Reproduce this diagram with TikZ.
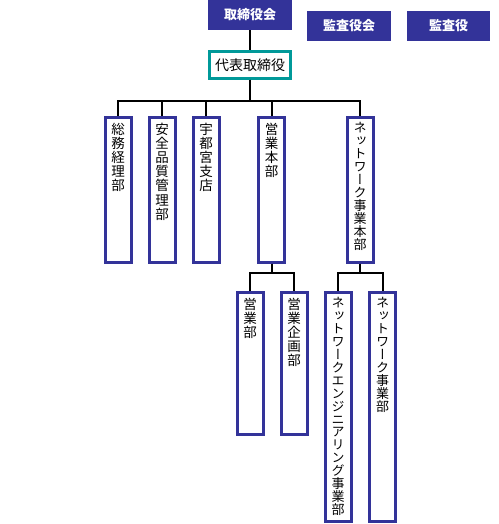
\documentclass[tikz,border=0pt]{standalone}
\usepackage{fontspec}
\usetikzlibrary{calc}
\newfontfamily\jp{Noto Sans CJK JP}
\newfontfamily\jpv[RawFeature=+vert]{Noto Sans CJK JP}
\definecolor{navy}{RGB}{51,51,153}
\definecolor{tealb}{RGB}{0,153,153}
\tikzset{
  topbox/.style={fill=navy, draw=none, text=white, font=\jp\bfseries\fontsize{13}{15}\selectfont, minimum width=84, minimum height=30, inner sep=0},
  repbox/.style={draw=tealb, line width=3, fill=white, font=\jp\fontsize{14}{16}\selectfont, minimum width=81, minimum height=27, inner sep=0},
  unit/.style={draw=navy, line width=3, fill=white, minimum width=26, inner sep=0, anchor=north},
  vtxt/.style={font=\jpv\fontsize{13.5}{14.2}\selectfont, align=center, inner sep=0, anchor=north},
  vtxtk/.style={font=\jpv\fontsize{13}{12.9}\selectfont, align=center, inner sep=0, anchor=north},
  conn/.style={draw=black, line width=2},
}
\begin{document}
\begin{tikzpicture}[x=1pt,y=-1pt]
\useasboundingbox (0,0) rectangle (498,524);
% top boxes
\node[topbox] (board) at (250,15) {取締役会};
\node[topbox] (audboard) at (349,26) {監査役会};
\node[topbox, minimum width=83] (auditor) at (448.5,26) {監査役};
\node[repbox] (rep) at (250,65) {代表取締役};
\coordinate (bar1) at (0,101);
\coordinate (bar2) at (0,273);
% units
\node[unit, minimum height=145] (soumu) at (118,115.5) {};
\node[unit, minimum height=145] (anzen) at (162,115.5) {};
\node[unit, minimum height=145] (utsu) at (206,115.5) {};
\node[unit, minimum height=145] (eigyohq) at (271.5,115.5) {};
\node[unit, minimum height=145] (nethq) at (360,115.5) {};
\node[unit, minimum height=142] (eigyo) at (250,290.5) {};
\node[unit, minimum height=142] (kikaku) at (294,290.5) {};
\node[unit, minimum height=229.5] (neteng) at (338,290.5) {};
\node[unit, minimum height=229.5] (netbiz) at (382.5,290.5) {};
% texts
\node[vtxt] (soumu-t) at ($(soumu.north)+(0,7)$) {総\\務\\経\\理\\部};
\node[vtxt] (anzen-t) at ($(anzen.north)+(0,7)$) {安\\全\\品\\質\\管\\理\\部};
\node[vtxt] (utsu-t) at ($(utsu.north)+(0,7)$) {宇\\都\\宮\\支\\店};
\node[vtxt] (eigyohq-t) at ($(eigyohq.north)+(0,7)$) {営\\業\\本\\部};
\node[vtxtk] (nethq-t) at ($(nethq.north)+(0,7)$) {ネ\\ッ\\ト\\ワ\\ー\\ク\\事\\業\\本\\部};
\node[vtxt] (eigyo-t) at ($(eigyo.north)+(0,7)$) {営\\業\\部};
\node[vtxt] (kikaku-t) at ($(kikaku.north)+(0,7)$) {営\\業\\企\\画\\部};
\node[vtxtk] (neteng-t) at ($(neteng.north)+(0,7)$) {ネ\\ッ\\ト\\ワ\\ー\\ク\\エ\\ン\\ジ\\ニ\\ア\\リ\\ン\\グ\\事\\業\\部};
\node[vtxtk] (netbiz-t) at ($(netbiz.north)+(0,7)$) {ネ\\ッ\\ト\\ワ\\ー\\ク\\事\\業\\部};
% connectors
\draw[conn] (board.south) -- (rep.north);
\foreach \c in {soumu,anzen,utsu,eigyohq,nethq}{
  \draw[conn] (rep.south) -- (rep.south |- bar1) -| (\c.north);
}
\foreach \c in {eigyo,kikaku}{
  \draw[conn] (eigyohq.south) -- (eigyohq.south |- bar2) -| (\c.north);
}
\foreach \c in {neteng,netbiz}{
  \draw[conn] (nethq.south) -- (nethq.south |- bar2) -| (\c.north);
}
\end{tikzpicture}
\end{document}
